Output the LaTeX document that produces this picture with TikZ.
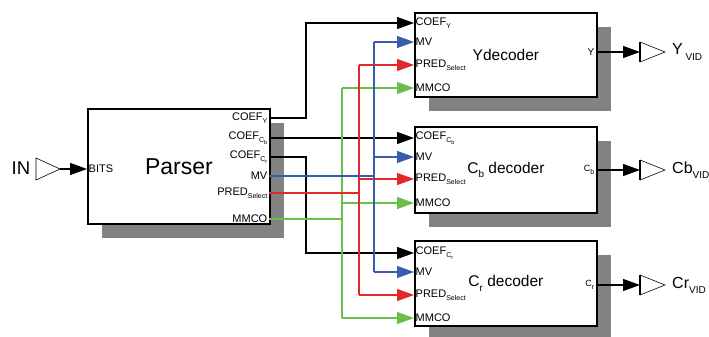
\documentclass[tikz,border=0pt]{standalone}
\usepackage{fontspec}
\setmainfont{Liberation Sans}
\usetikzlibrary{arrows.meta,shadows}
\definecolor{sblue}{HTML}{3A5CAD}
\definecolor{sred}{HTML}{E22828}
\definecolor{sgreen}{HTML}{6CBE48}
\definecolor{shgray}{HTML}{828282}
\newcommand\lsub[1]{\raisebox{-0.55ex}{\fontsize{7}{8}\selectfont #1}}
\newcommand\llsub[1]{\raisebox{-0.45ex}{\fontsize{5.5}{6}\selectfont #1}}
\newcommand\bigsub[1]{\raisebox{-0.6ex}{\fontsize{10}{11}\selectfont #1}}
\tikzset{
  blockbox/.style={draw, line width=1.8pt, fill=white, minimum width=182pt,
    anchor=north west, inner sep=0pt,
    drop shadow={shadow xshift=14pt, shadow yshift=-14pt, fill=shgray, opacity=1}},
  dectitle/.style={font=\fontsize{15.5}{17}\selectfont},
  pl/.style={font=\fontsize{11}{12}\selectfont, inner sep=1.5pt},
  sig/.style={line width=1.3pt},
  arr/.style={sig, -{Triangle[length=17pt,width=12pt]}},
  buf/.style={line width=0.6pt},
  buftxt/.style={font=\fontsize{16}{18}\selectfont, anchor=west, inner sep=0pt}
}
\begin{document}
\begin{tikzpicture}[x=1pt,y=-1pt]
\useasboundingbox (0,0) rectangle (709,337);
% blocks
\node[blockbox, minimum height=115pt, font=\fontsize{23}{26}\selectfont] (parser) at (87,108) {Parser};
\node[blockbox, minimum height=84pt, dectitle] (ydec) at (414,12) {Ydecoder};
\node[blockbox, minimum height=86pt, dectitle] (cbdec) at (414,126) {C\bigsub{b} decoder};
\node[blockbox, minimum height=85pt, dectitle] (crdec) at (414,240) {C\bigsub{r} decoder};
% parser ports
\coordinate (pbits) at (87,169);
\coordinate (pcy) at (269,118);
\coordinate (pccb) at (269,138);
\coordinate (pccr) at (269,157);
\coordinate (pmv) at (269,176);
\coordinate (ppred) at (269,193);
\coordinate (pmmco) at (269,219);
% decoder ports
\coordinate (ycoef) at (414,23);
\coordinate (ymv) at (414,42);
\coordinate (ypred) at (414,65);
\coordinate (ymmco) at (414,88);
\coordinate (cbcoef) at (414,138);
\coordinate (cbmv) at (414,157);
\coordinate (cbpred) at (414,179);
\coordinate (cbmmco) at (414,203);
\coordinate (crcoef) at (414,253);
\coordinate (crmv) at (414,272);
\coordinate (crpred) at (414,295);
\coordinate (crmmco) at (414,318);
% bus x positions
\coordinate (xcoef) at (306,0);
\coordinate (xmv) at (374,0);
\coordinate (xpred) at (359,0);
\coordinate (xmmco) at (342,0);
% outputs
\coordinate (yout) at (596,52);
\coordinate (cbout) at (596,170);
\coordinate (crout) at (596,285);
\coordinate (ybuf) at (640,52);
\coordinate (cbbuf) at (640,170);
\coordinate (crbuf) at (640,285);
% input
\coordinate (inbuf) at (60,169);

% parser port labels
\node[pl, anchor=west] at (pbits) {BITS};
\node[pl, anchor=east] at (pcy) {COEF\lsub{Y}};
\node[pl, anchor=east] at (pccb) {COEF\lsub{C\llsub{b}}};
\node[pl, anchor=east] at (pccr) {COEF\lsub{C\llsub{r}}};
\node[pl, anchor=east] at (pmv) {MV};
\node[pl, anchor=east] at (ppred) {PRED\lsub{Select}};
\node[pl, anchor=east] at (pmmco) {MMCO};
% decoder port labels
\foreach \d/\s in {y/{COEF\lsub{Y}}, cb/{COEF\lsub{C\llsub{b}}}, cr/{COEF\lsub{C\llsub{r}}}}{
  \node[pl, anchor=west] at (\d coef) {\s};
  \node[pl, anchor=west] at (\d mv) {MV};
  \node[pl, anchor=west] at (\d pred) {PRED\lsub{Select}};
  \node[pl, anchor=west] at (\d mmco) {MMCO};
}
\node[pl, anchor=east, font=\fontsize{10}{11}\selectfont] at (yout) {Y};
\node[pl, anchor=east, font=\fontsize{9}{10}\selectfont] at (cbout) {C\lsub{b}};
\node[pl, anchor=east, font=\fontsize{9}{10}\selectfont] at (crout) {C\lsub{r}};

% COEF connectors
\draw[arr] (pcy) -| (ycoef -| xcoef) -- (ycoef);
\draw[arr] (pccb) -- (cbcoef);
\draw[arr] (pccr) -| (crcoef -| xcoef) -- (crcoef);
% MMCO (green)
\draw[sig, sgreen] (pmmco) -- (pmmco -| xmmco);
\draw[sig, sgreen] (ymmco -| xmmco) -- (crmmco -| xmmco);
\draw[arr, sgreen] (ymmco -| xmmco) -- (ymmco);
\draw[arr, sgreen] (cbmmco -| xmmco) -- (cbmmco);
\draw[arr, sgreen] (crmmco -| xmmco) -- (crmmco);
% PRED (red)
\draw[sig, sred] (ppred) -- (ppred -| xpred);
\draw[sig, sred] (ypred -| xpred) -- (crpred -| xpred);
\draw[arr, sred] (ypred -| xpred) -- (ypred);
\draw[arr, sred] (cbpred -| xpred) -- (cbpred);
\draw[arr, sred] (crpred -| xpred) -- (crpred);
% MV (blue)
\draw[sig, sblue] (pmv) -- (pmv -| xmv);
\draw[sig, sblue] (ymv -| xmv) -- (crmv -| xmv);
\draw[arr, sblue] (ymv -| xmv) -- (ymv);
\draw[arr, sblue] (cbmv -| xmv) -- (cbmv);
\draw[arr, sblue] (crmv -| xmv) -- (crmv);

% input buffer
\node[font=\fontsize{18.5}{20}\selectfont, inner sep=0pt] (inlbl) at (21,168) {IN};
\draw[buf] (36,158) -- (inbuf) -- (36,180) -- cycle;
\draw[arr] (inbuf) -- (pbits);

% output buffers
\foreach \b/\o in {ybuf/yout, cbbuf/cbout, crbuf/crout}{
  \draw[arr] (\o) -- (\b);
  \draw[buf] ([yshift=10pt]\b) -- ([xshift=25pt]\b) -- ([yshift=-10pt]\b);
  \draw[line width=1.2pt] ([yshift=10pt]\b) -- ([yshift=-10pt]\b);
}
\node[buftxt] (ylbl) at (672,52) {Y\,\bigsub{VID}};
\node[buftxt] (cblbl) at (672,170) {Cb\bigsub{VID}};
\node[buftxt] (crlbl) at (672,285) {Cr\bigsub{VID}};
\end{tikzpicture}
\end{document}
